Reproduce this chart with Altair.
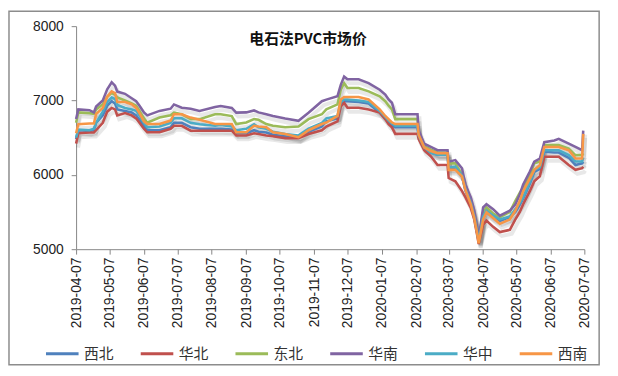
import altair as alt
import pandas as pd

title_text = "电石法PVC市场价"
names = ["西北", "华北", "东北", "华南", "华中", "西南"]
colors = ["#4F81BD", "#C0504D", "#9BBB59", "#8064A2", "#4BACC6", "#F79646"]

dates = [
    "2019-04-07", "2019-04-09", "2019-04-19", "2019-04-23", "2019-04-25", "2019-05-01",
    "2019-05-05", "2019-05-09", "2019-05-12", "2019-05-14", "2019-05-21", "2019-05-27",
    "2019-05-31", "2019-06-03", "2019-06-07", "2019-06-10", "2019-06-21", "2019-07-01",
    "2019-07-04", "2019-07-11", "2019-07-19", "2019-07-27", "2019-08-10", "2019-08-15",
    "2019-08-25", "2019-08-29", "2019-09-07", "2019-09-14", "2019-09-18", "2019-09-25",
    "2019-10-01", "2019-10-12", "2019-10-24", "2019-11-02", "2019-11-14", "2019-11-18",
    "2019-11-28", "2019-12-01", "2019-12-04", "2019-12-07", "2019-12-17", "2019-12-26",
    "2020-01-05", "2020-01-10", "2020-01-13", "2020-01-16", "2020-01-19", "2020-02-08",
    "2020-02-09", "2020-02-14", "2020-02-20", "2020-02-26", "2020-03-06", "2020-03-07",
    "2020-03-13", "2020-03-19", "2020-03-22", "2020-03-27", "2020-03-30", "2020-04-02",
    "2020-04-03", "2020-04-07", "2020-04-10", "2020-04-16", "2020-04-22", "2020-05-01",
    "2020-05-06", "2020-05-10", "2020-05-13", "2020-05-19", "2020-05-23", "2020-05-28",
    "2020-06-01", "2020-06-10", "2020-06-14", "2020-06-23", "2020-06-29", "2020-07-05",
    "2020-07-06",
]

# 华南 (purple)
huanan = [6750, 6880, 6870, 6840, 6920, 7000, 7150, 7246, 7200, 7120, 7090, 7030,
          6990, 6930, 6840, 6800, 6860, 6890, 6947, 6903, 6890, 6860, 6912, 6925,
          6900, 6837, 6840, 6866, 6840, 6815, 6793, 6757, 6727, 6836, 6990, 7012,
          7057, 7211, 7321, 7285, 7285, 7233, 7145, 7079, 7013, 6970, 6815, 6815,
          6600, 6419, 6375, 6331, 6331, 6176, 6198, 6089, 5869, 5693, 5517, 5253,
          5143, 5561, 5605, 5539, 5451, 5517, 5605, 5737, 5869, 6045, 6176, 6220,
          6440, 6462, 6485, 6419, 6375, 6331, 6595]
# 东北 (green)
dongbei = [6700, 6840, 6830, 6820, 6880, 6950, 7050, 7100, 7080, 7040, 7000, 6960,
           6930, 6860, 6760, 6700, 6770, 6800, 6836, 6815, 6750, 6749, 6815, 6815,
           6790, 6683, 6704, 6750, 6740, 6683, 6661, 6639, 6650, 6749, 6815, 6881,
           6947, 7145, 7233, 7167, 7167, 7123, 7057, 6990, 6930, 6881, 6749, 6749,
           6560, 6390, 6340, 6300, 6300, 6154, 6154, 6000, 5830, 5650, 5480, 5220,
           5120, 5500, 5561, 5480, 5429, 5500, 5650, 5759, 5830, 6000, 6154, 6180,
           6400, 6400, 6400, 6353, 6265, 6265, 6290]
# 西南 (orange)
xinan = [6560, 6680, 6690, 6690, 6820, 6900, 7050, 7123, 7100, 6980, 6980, 6950,
         6900, 6830, 6720, 6683, 6683, 6730, 6815, 6815, 6770, 6740, 6683, 6683,
         6683, 6572, 6572, 6660, 6650, 6640, 6572, 6550, 6506, 6600, 6683, 6704,
         6792, 7013, 7048, 7048, 7048, 7013, 6881, 6792, 6750, 6704, 6683, 6683,
         6540, 6370, 6320, 6290, 6290, 6067, 6067, 5980, 5800, 5600, 5420, 5180,
         5080, 5400, 5495, 5420, 5341, 5400, 5520, 5650, 5780, 5950, 6067, 6130,
         6375, 6375, 6375, 6331, 6221, 6221, 6551]
# 华中 (cyan)
huazhong = [6500, 6610, 6600, 6620, 6700, 6850, 6980, 7040, 7020, 6940, 6900, 6880,
            6860, 6800, 6700, 6640, 6650, 6700, 6760, 6760, 6700, 6680, 6660, 6670,
            6650, 6600, 6620, 6680, 6640, 6620, 6580, 6550, 6530, 6620, 6700, 6760,
            6790, 6980, 7013, 7013, 7000, 6980, 6860, 6780, 6730, 6690, 6660, 6660,
            6530, 6370, 6300, 6270, 6270, 6100, 6110, 5990, 5810, 5620, 5440, 5200,
            5110, 5440, 5517, 5450, 5400, 5440, 5540, 5620, 5700, 5900, 6067, 6100,
            6330, 6330, 6330, 6265, 6180, 6180, 6230]
# 西北 (blue)
xibei = [6480, 6600, 6590, 6600, 6700, 6800, 6930, 6990, 6960, 6880, 6860, 6840,
         6800, 6740, 6660, 6600, 6600, 6640, 6700, 6700, 6640, 6620, 6620, 6620,
         6610, 6560, 6560, 6600, 6580, 6570, 6540, 6520, 6500, 6580, 6650, 6720,
         6760, 6950, 6990, 6990, 6980, 6960, 6840, 6760, 6710, 6660, 6639, 6639,
         6520, 6360, 6300, 6270, 6270, 6080, 6090, 5980, 5790, 5610, 5430, 5190,
         5100, 5420, 5500, 5430, 5380, 5430, 5500, 5600, 5680, 5880, 6040, 6080,
         6310, 6300, 6300, 6230, 6133, 6155, 6176]
# 华北 (red)
huabei = [6420, 6560, 6570, 6570, 6600, 6700, 6850, 6900, 6880, 6800, 6830, 6800,
          6760, 6700, 6620, 6572, 6572, 6620, 6660, 6660, 6594, 6594, 6594, 6594,
          6594, 6530, 6530, 6560, 6550, 6530, 6520, 6494, 6494, 6550, 6600, 6650,
          6720, 6920, 6969, 6902, 6902, 6880, 6837, 6750, 6680, 6639, 6551, 6551,
          6480, 6331, 6250, 6133, 6133, 5957, 5913, 5781, 5700, 5550, 5400, 5160,
          5070, 5330, 5385, 5300, 5231, 5260, 5400, 5500, 5605, 5780, 5913, 5980,
          6243, 6243, 6243, 6133, 6067, 6089, 6110]

series = {"西北": xibei, "华北": huabei, "东北": dongbei,
          "华南": huanan, "华中": huazhong, "西南": xinan}

rows = []
for k, name in enumerate(names):
    for d, v in zip(dates, series[name]):
        rows.append({"date": d + "T00:00:00", "value": v, "series": name, "k": k})
df = pd.DataFrame(rows)

tick_dates = [alt.DateTime(year=2019 + (3 + i) // 12, month=(3 + i) % 12 + 1, date=7)
              for i in range(16)]

x_enc = alt.X("date:T",
              scale=alt.Scale(domain=[tick_dates[0], tick_dates[-1]]),
              axis=alt.Axis(values=tick_dates, format="%Y-%m-%d", labelAngle=-90,
                            title=None, grid=False, domainColor="#868686",
                            tickColor="#868686", tickSize=5, labelFontSize=14,
                            labelColor="#222", labelFont="Liberation Sans",
                            labelPadding=3))
y_enc = alt.Y("value:Q",
              scale=alt.Scale(domain=[5000, 8000]),
              axis=alt.Axis(values=[5000, 6000, 7000, 8000], format="d", title=None,
                            grid=False, domainColor="#868686", tickColor="#868686",
                            tickSize=5, labelFontSize=14, labelColor="#222",
                            labelFont="Liberation Sans", labelPadding=8))

base = alt.Chart(df)

shadow = base.mark_line(strokeWidth=4, color="#000", opacity=0.09,
                        xOffset=2, yOffset=4).encode(
    x=x_enc, y=y_enc, detail="series:N")

lines = base.mark_line(strokeWidth=2.6).encode(
    x=x_enc, y=y_enc,
    color=alt.Color("series:N",
                    scale=alt.Scale(domain=names, range=colors),
                    sort=names,
                    legend=alt.Legend(title=None, orient="none", direction="horizontal",
                                      legendX=-32, legendY=314, columns=6,
                                      symbolType="stroke", symbolSize=1089,
                                      symbolStrokeWidth=3, labelFontSize=15,
                                      labelFont="Noto Sans CJK SC", labelColor="#333",
                                      labelOffset=4, columnPadding=20)),
    order=alt.Order("date:T"),
)

title_df = pd.DataFrame({"t": [title_text]})
title = alt.Chart(title_df).mark_text(fontSize=15, fontWeight="bold",
                                      font="Noto Sans CJK SC", color="#111").encode(
    text="t:N", x=alt.value(235), y=alt.value(13))

frame = alt.Chart(title_df).mark_rect(fillOpacity=0, stroke="#8c8c8c",
                                      strokeWidth=1.5).encode(
    x=alt.value(-68), x2=alt.value(530), y=alt.value(-15), y2=alt.value(343))

chart = alt.layer(frame, shadow, lines, title).properties(
    width=515, height=226,
    autosize=alt.AutoSizeParams(type="none"),
    padding={"left": 69, "top": 16, "right": 26, "bottom": 118},
).configure_view(stroke=None)

chart.save("out.html", embed_options={"renderer": "svg", "actions": False})
